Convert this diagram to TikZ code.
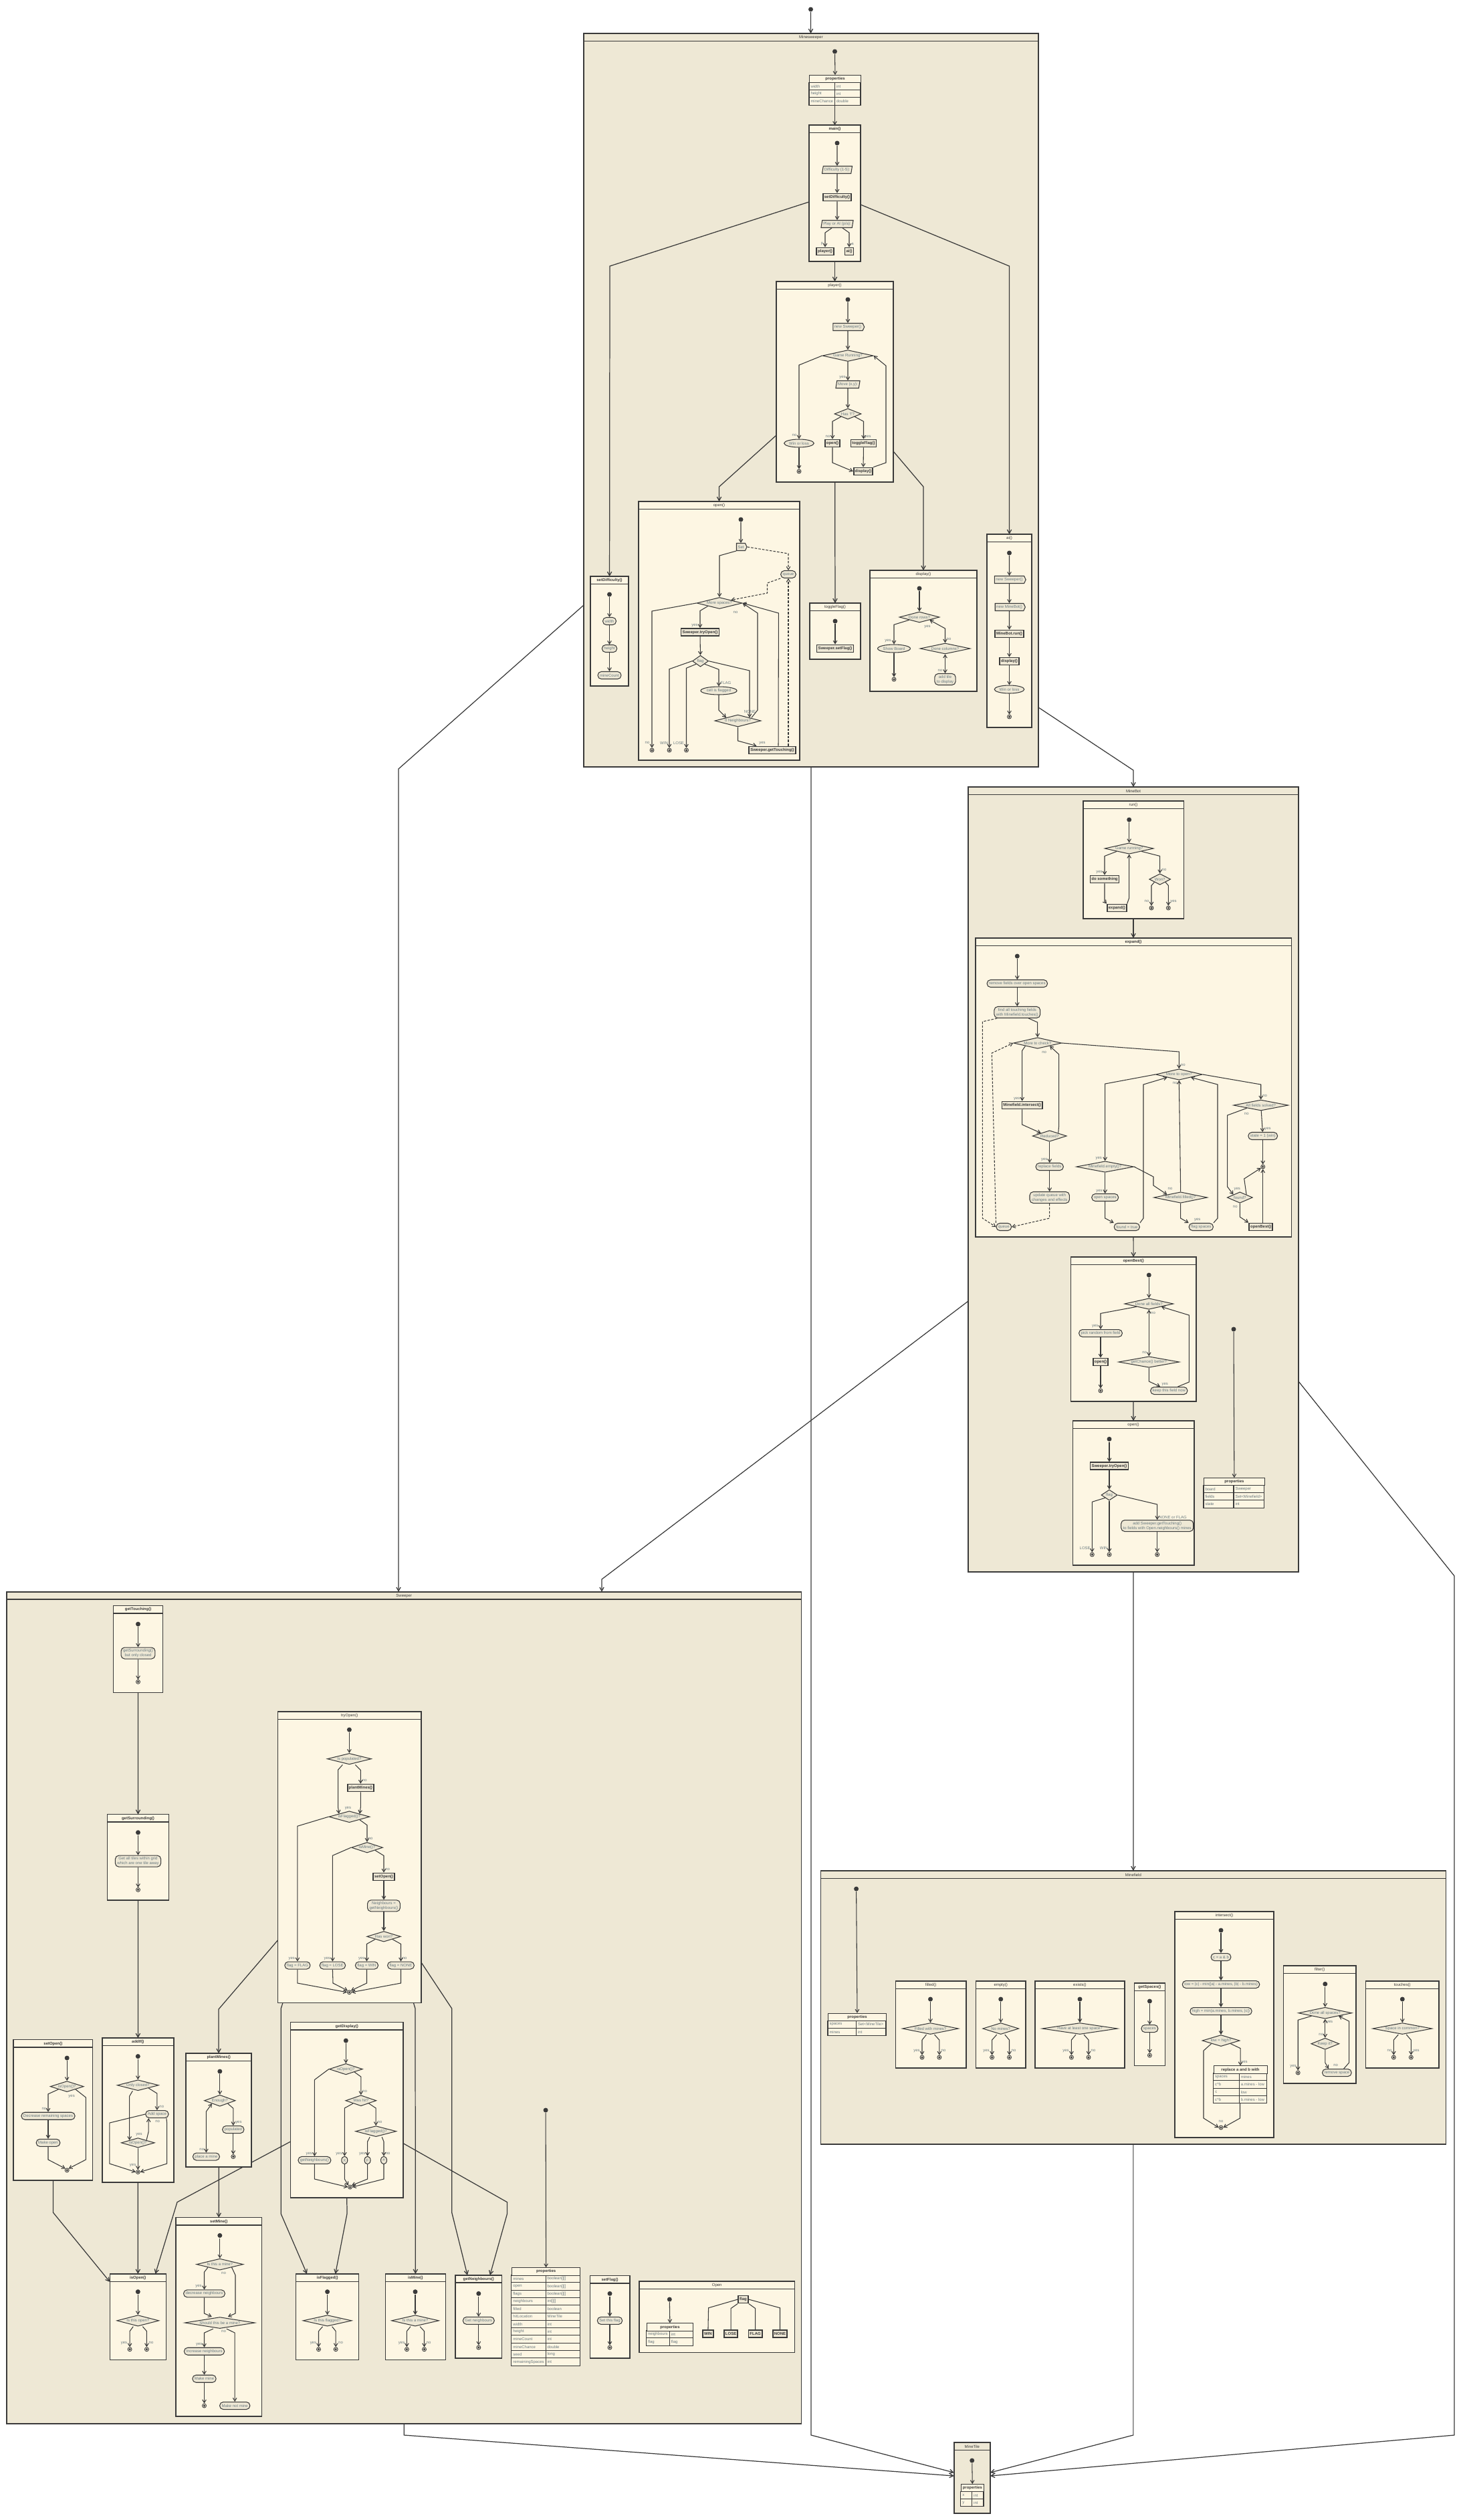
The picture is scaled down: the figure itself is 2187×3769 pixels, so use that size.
\documentclass[tikz,border=0pt]{standalone}
\usepackage{fontspec}
\setmainfont{Liberation Sans}
\usepackage{tikz}
\usetikzlibrary{arrows.meta,shapes.geometric,shapes.symbols}

\definecolor{beige}{HTML}{EEE8D5}
\definecolor{cream}{HTML}{FDF6E3}
\definecolor{nodefill}{HTML}{EEE8D5}
\definecolor{ink}{HTML}{3A3A3A}
\definecolor{txt}{HTML}{6B7B80}

\newdimen\px
\px=0.01cm

\pgfdeclarelayer{back}
\pgfdeclarelayer{mid}
\pgfsetlayers{back,mid,main}

\tikzset{
  base/.style={font=\fontsize{1.7}{2}\selectfont, text=txt, inner sep=0pt},
  start/.style={circle, fill=ink, inner sep=0pt, minimum size=7*\px},
  stop/.style={circle, draw=ink, fill=cream, line width=0.25pt, inner sep=0pt,
    minimum size=6*\px, path picture={\fill[ink] (path picture bounding box.center) circle (0.5pt);}},
  act/.style={base, draw=ink, fill=nodefill, line width=0.3pt, rounded corners=1.5pt,
    minimum height=11*\px, inner xsep=3*\px, inner ysep=2.2*\px, align=center},
  call/.style={base, draw=ink, fill=nodefill, line width=0.5pt, text=ink,
    font=\fontsize{1.7}{2}\selectfont\bfseries, minimum height=11*\px, inner xsep=2*\px},
  inp/.style={base, trapezium, trapezium left angle=72, trapezium right angle=108,
    trapezium stretches=true, draw=ink, fill=nodefill, line width=0.3pt,
    minimum height=11*\px, inner xsep=1.5*\px},
  sig/.style={base, signal, signal to=east, signal pointer angle=130, draw=ink,
    fill=nodefill, line width=0.3pt, minimum height=11*\px, inner xsep=2*\px},
  dec/.style 2 args={base, diamond, draw=ink, fill=nodefill, line width=0.3pt,
    /utils/exec={\pgfmathsetmacro\decaspect{#1/#2}}, aspect=\decaspect,
    minimum width=#1*\px, minimum height=#2*\px},
  oval/.style={base, ellipse, draw=ink, fill=nodefill, line width=0.3pt,
    minimum height=12*\px, inner xsep=1*\px},
  lbl/.style={base},
  flow/.style={draw=ink, line width=0.3pt, -{Straight Barb[length=1.3pt,width=1.6pt]}},
  both/.style={draw=ink, line width=0.3pt,
    {Straight Barb[length=1.3pt,width=1.6pt]}-{Straight Barb[length=1.3pt,width=1.6pt]}},
  dflow/.style={flow, dash pattern=on 1pt off 0.6pt},
  link/.style={draw=ink, line width=0.35pt, -{Straight Barb[length=1.6pt,width=1.8pt]}},
  tree/.style={draw=ink, line width=0.3pt},
  sl/.style={to path={-- ([yshift=-#1*\px]\tikztostart -| \tikztotarget) -- (\tikztotarget) \tikztonodes}},
  sl/.default=7,
  frame/.style={draw=ink, line width=0.45pt, inner sep=0pt, outer sep=0pt},
  ftitle/.style={base, text=ink},
  tabhead/.style={base, draw=ink, fill=cream, line width=0.3pt, text=ink,
    font=\fontsize{1.7}{2}\selectfont\bfseries},
  tabtxt/.style={base},
}

% frame with a title bar: fill, name, x1, y1, x2, y2, title
\newcommand{\umlframe}[7]{%
  \node[frame, fill=#1, minimum width={(#5-#3)*\px}, minimum height={(#6-#4)*\px},
    anchor=north west] (#2) at (#3,#4) {};
  \draw[ink, line width=0.45pt] (#3,#4+11.5) -- (#5,#4+11.5);
  \node[ftitle] (#2-t) at ({(#3+#5)/2},#4+6) {#7};
}

% table: name, title, x left, x split, x right, y top, rows
\newcommand{\proptab}[7]{%
  \foreach \k/\v [count=\i] in {#7} {
    \draw[tree, fill=cream] (#3,{#6+\i*11.3}) rectangle (#5,{#6+(\i+1)*11.3});
    \draw[tree] (#4,{#6+\i*11.3}) -- (#4,{#6+(\i+1)*11.3});
    \node[tabtxt, anchor=west] (#1-k\i) at (#3+1.8,{#6+(\i+0.5)*11.3}) {\k};
    \node[tabtxt, anchor=west] (#1-v\i) at (#4+1.8,{#6+(\i+0.5)*11.3}) {\v};
    \coordinate (#1-bot) at ({(#3+#5)/2},{#6+(\i+1)*11.3});
  }
  \node[tabhead, minimum width={(#5-#3)*\px}, minimum height={11.3*\px},
    anchor=north west] (#1) at (#3,#6) {#2};
}

\begin{document}
\begin{tikzpicture}[x=0.01cm, y=-0.01cm]
\useasboundingbox (0,0) rectangle (2187,3769);
\begin{pgfonlayer}{back}
  \fill[white] (0,0) rectangle (2187,3769);
  \umlframe{beige}{ms}{873}{50}{1553}{1147}{Minesweeper}
  \umlframe{beige}{mb}{1448}{1177}{1942}{2351}{MineBot}
  \umlframe{beige}{mf}{1227.3}{2798}{2162.4}{3207}{Minefield}
  \umlframe{beige}{sw}{10}{2380.7}{1198.5}{3625}{Sweeper}
  \umlframe{beige}{mt}{1426.7}{3653}{1481}{3759}{MineTile}
\end{pgfonlayer}

\node[start] (go) at (1212.5,14) {};

% ================= Minesweeper
\node[start] (ms-s) at (1248.5,77) {};
\proptab{ms-pr}{properties}{1210}{1248.5}{1287}{112}{width/int, height/int, mineChance/double}
\draw[flow] (ms-s) -- (ms-pr);

% main()
\umlframe{cream}{ms-main}{1210}{187}{1287}{391}{\bfseries main()}
\draw[flow] (ms-pr-bot) -- (ms-main);
\node[start] (mm-s) at (1252,214) {};
\node[inp] (mm-d) at (1252,254) {Difficulty (1-5):};
\node[call] (mm-sd) at (1252,295) {setDifficulty()};
\node[inp] (mm-pa) at (1252,335) {Play or AI (p/a):};
\node[call] (mm-pl) at (1234,376) {player()};
\node[call] (mm-ai) at (1270,376) {ai()};
\node[lbl] (mm-lp) at (1229.5,365) {p};
\node[lbl] (mm-la) at (1275,365) {a};
\foreach \a/\b in {mm-s/mm-d, mm-d/mm-sd, mm-sd/mm-pa}
  \draw[flow] (\a) -- (\b);
\draw[flow] ([xshift=-0.08cm]mm-pa.south) to[sl] (mm-pl);
\draw[flow] ([xshift=0.08cm]mm-pa.south) to[sl] (mm-ai);

% player()
\umlframe{cream}{ms-pf}{1161}{421}{1336}{721}{player()}
\node[start] (pf-s) at (1268,448) {};
\node[sig] (pf-new) at (1268,489) {new Sweeper()};
\node[dec={76}{17}] (pf-run) at (1268,532) {Game Running?};
\node[lbl] (pf-ly) at (1260,565) {yes};
\node[inp] (pf-mv) at (1268,575) {Move (x,y):};
\node[dec={40}{16}] (pf-f) at (1268,619) {Has 'f'?};
\node[call] (pf-op) at (1245,663) {open()};
\node[call] (pf-tf) at (1291.5,663) {toggleFlag()};
\node[lbl] (pf-ln) at (1238,653) {no};
\node[lbl] (pf-lt) at (1298,653) {yes};
\node[call] (pf-dp) at (1291,705) {display()};
\node[lbl] (pf-lw) at (1188,651) {no};
\node[oval] (pf-wl) at (1195,663) {Win or loss};
\node[stop] (pf-e) at (1195,705) {};
\foreach \a/\b in {pf-s/pf-new, pf-new/pf-run, pf-run/pf-mv, pf-mv/pf-f, pf-wl/pf-e, pf-tf/pf-dp}
  \draw[flow] (\a) -- (\b);
\draw[flow] (pf-run.west) to[sl=14] (pf-wl);
\draw[flow] (pf-f.south west) to[sl] (pf-op);
\draw[flow] (pf-f.south east) to[sl] (pf-tf);
\draw[flow] (pf-op.south) -- (1245,692) -- (pf-dp.west);
\draw[flow] (pf-dp.north east) -- (1325,692) -- (1325,547) -- (pf-run.east);

% setDifficulty()
\umlframe{cream}{ms-sd}{883}{862}{940}{1026}{\bfseries setDifficulty()}
\node[start] (sd-s) at (911.5,889) {};
\node[act] (sd-w) at (911.5,929) {width};
\node[act] (sd-h) at (911.5,970) {height};
\node[act] (sd-m) at (911.5,1010) {mineCount};
\foreach \a/\b in {sd-s/sd-w, sd-w/sd-h, sd-h/sd-m}
  \draw[flow] (\a) -- (\b);

% open()
\umlframe{cream}{ms-of}{955}{750}{1196}{1137}{open()}
\node[start] (of-s) at (1108,777) {};
\node[sig] (of-set) at (1108,818) {Set};
\node[act] (of-q) at (1179,859) {queue};
\node[dec={68}{17}] (of-m) at (1076,902) {More spaces?};
\node[lbl] (of-l1) at (1100,916) {no};
\node[lbl] (of-l2) at (1039,935) {yes};
\node[call] (of-try) at (1047,945.5) {Sweeper.tryOpen()};
\node[dec={24}{17}] (of-f) at (1047.5,988.7) {flag};
\node[lbl] (of-l3) at (1085.5,1021) {FLAG};
\node[oval] (of-cf) at (1075,1033) {cell is flagged};
\node[lbl] (of-l4) at (1121.5,1064) {NONE};
\node[dec={69}{18}] (of-n) at (1103.5,1078) {0 Neighbours?};
\node[lbl] (of-l5) at (1140,1111) {yes};
\node[call] (of-gt) at (1155,1122) {Sweeper.getTouching()};
\node[stop] (of-e1) at (975,1122) {};
\node[stop] (of-e2) at (1001,1122) {};
\node[stop] (of-e3) at (1026.5,1122) {};
\node[lbl] (of-l6) at (968,1111) {no};
\node[lbl] (of-l7) at (993,1111) {WIN};
\node[lbl] (of-l8) at (1015,1111) {LOSE};
\draw[flow] (of-s) -- (of-set);
\draw[flow] ([xshift=-0.07cm]of-set.south) to[sl] (of-m);
\draw[dflow] (of-set.east) to[sl=10] (of-q);
\draw[dflow] (of-q.south west) -- (1147.5,872) -- (1147.5,887) -- (of-m.north east);
\draw[flow] (of-m.west) to[sl=12] (of-e1);
\draw[flow] (of-m.south west) to[sl] (of-try);
\draw[flow] (of-try) -- (of-f);
\draw[flow] (of-f.west) to[sl=12] (of-e2);
\draw[flow] (of-f.south west) to[sl=6] (of-e3);
\draw[flow] (of-f.south east) to[sl=8] (of-cf);
\draw[flow] (of-f.east) -- (of-n.north east |- 0,1003) -- (of-n.north east);
\draw[flow] (of-cf.south) -- (1075,1062) -- (of-n.north west);
\draw[flow] (of-n.south) -- (1103.5,1108) -- ([xshift=0.12cm]of-gt.north west);
\draw[flow] ([xshift=0.03cm]of-n.north east) -- (1133,1062) -- (1133,917) -- (of-m.east);
\draw[flow] ([xshift=0.09cm]of-gt.north) -- (1164.4,917) -- (of-m.east);
\draw[dflow] (of-q.south |- of-gt.north) -- (of-q.south);

% toggleFlag()
\umlframe{cream}{ms-tf}{1211}{902}{1287}{986}{toggleFlag()}
\node[start] (tf-s) at (1249,929) {};
\node[call] (tf-c) at (1249,970) {Sweeper.setFlag()};
\draw[flow] (tf-s) -- (tf-c);

% display()
\umlframe{cream}{ms-df}{1301}{853}{1461}{1034}{display()}
\node[start] (df-s) at (1375,880) {};
\node[dec={60}{16}] (df-r) at (1375,923) {Done rows?};
\node[lbl] (df-l1) at (1387,937) {yes};
\node[lbl] (df-l2) at (1328,958) {yes};
\node[oval] (df-sb) at (1337,970) {Show Board};
\node[stop] (df-e) at (1337,1016) {};
\node[lbl] (df-l3) at (1419,956) {no};
\node[dec={75}{16}] (df-c) at (1413.5,970) {Done columns?};
\node[lbl] (df-l4) at (1406,1003) {no};
\node[act] (df-a) at (1413.5,1016) {add tile\\to display};
\draw[flow] (df-s) -- (df-r);
\draw[flow] (df-r.south west) to[sl] (df-sb);
\draw[flow] (df-sb) -- (df-e);
\draw[both] (df-c.north) -- (1413.5,940) -- (df-r.south east);
\draw[both] (df-c) -- (df-a);

% ai()
\umlframe{cream}{ms-ai}{1476}{799}{1543}{1088}{ai()}
\node[start] (ai-s) at (1509.5,827) {};
\node[sig] (ai-1) at (1509.5,867) {new Sweeper()};
\node[sig] (ai-2) at (1509.5,908) {new MineBot()};
\node[call] (ai-3) at (1509.5,948) {MineBot.run()};
\node[call] (ai-4) at (1509.5,989) {display()};
\node[oval] (ai-5) at (1509.5,1031) {Win or loss};
\node[stop] (ai-e) at (1509.5,1072) {};
\foreach \a/\b in {ai-s/ai-1, ai-1/ai-2, ai-2/ai-3, ai-3/ai-4, ai-4/ai-5, ai-5/ai-e}
  \draw[flow] (\a) -- (\b);

% ================= MineBot
% run()
\umlframe{cream}{mb-run}{1619.7}{1198}{1770.3}{1374}{run()}
\node[start] (rn-s) at (1688.7,1226) {};
\node[dec={73}{16.5}] (rn-g) at (1688.7,1269) {Game running?};
\node[lbl] (rn-l1) at (1644,1304) {yes};
\node[call] (rn-d) at (1652,1315) {do something};
\node[call] (rn-x) at (1670.3,1358) {expand()};
\node[lbl] (rn-l2) at (1741,1301) {no};
\node[dec={32}{16.5}] (rn-w) at (1734.7,1315) {Won?};
\node[lbl] (rn-l3) at (1715,1348) {no};
\node[lbl] (rn-l4) at (1755,1348) {yes};
\node[stop] (rn-e1) at (1722,1358) {};
\node[stop] (rn-e2) at (1747.3,1358) {};
\draw[flow] (rn-s) -- (rn-g);
\draw[flow] (rn-g.south west) to[sl] (rn-d);
\draw[flow] (rn-d.south) -- (1652,1348) -- (rn-x.north west);
\draw[flow] (rn-x.north east) -- (1688.7,1343) -- (rn-g.south);
\draw[flow] (rn-g.south east) to[sl] (rn-w);
\draw[flow] (rn-w.south west) to[sl=5] (rn-e1);
\draw[flow] (rn-w.south east) to[sl=5] (rn-e2);

% expand()
\umlframe{cream}{mb-exp}{1458.7}{1403}{1931.3}{1850}{\bfseries expand()}
\node[start] (ex-s) at (1521.3,1430) {};
\node[act] (ex-r) at (1521.3,1471) {remove fields over open spaces};
\node[act] (ex-f) at (1521.3,1514) {find all touching fields\\with Minefield.touches()};
\node[dec={72}{16.5}] (ex-c) at (1551.7,1560) {More to check?};
\node[lbl] (ex-l1) at (1561.7,1574) {no};
\node[lbl] (ex-l2) at (1520.7,1643) {yes};
\node[call] (ex-i) at (1528.7,1653) {Minefield.intersect()};
\node[dec={51}{16.5}] (ex-d) at (1569.7,1699) {Reduced?};
\node[lbl] (ex-l3) at (1561.7,1734) {yes};
\node[act] (ex-rp) at (1569.7,1745) {replace fields};
\node[act] (ex-u) at (1569.7,1791) {update queue with\\changes and effects};
\node[act] (ex-q) at (1501.3,1835) {queue};
\node[dec={70}{16.5}] (ex-o) at (1763.3,1607) {More to open?};
\node[lbl] (ex-l4) at (1769.3,1593) {no};
\node[lbl] (ex-l5) at (1757.3,1620) {no};
\node[lbl] (ex-l6) at (1643.3,1732) {yes};
\node[dec={86}{16.5}] (ex-em) at (1652.7,1745) {Minefield.empty()?};
\node[lbl] (ex-l7) at (1644,1781) {yes};
\node[act] (ex-os) at (1652.7,1791) {open spaces};
\node[act] (ex-ft) at (1685.3,1835) {found = true};
\node[lbl] (ex-l8) at (1750,1778) {no};
\node[dec={80}{16.5}] (ex-fi) at (1765.7,1791) {Minefield.filled()?};
\node[lbl] (ex-l9) at (1790.7,1824) {yes};
\node[act] (ex-fs) at (1796.3,1835) {flag spaces};
\node[lbl] (ex-l10) at (1891.7,1639) {no};
\node[dec={82}{16}] (ex-a) at (1885.7,1653) {All fields solved?};
\node[lbl] (ex-l11) at (1864.3,1666) {no};
\node[lbl] (ex-l12) at (1896,1688) {yes};
\node[act] (ex-w) at (1888.7,1699) {state = 1 (win)};
\node[stop] (ex-e) at (1888.7,1745) {};
\node[lbl] (ex-l13) at (1850.3,1778) {yes};
\node[dec={38}{16.5}] (ex-fd) at (1854.3,1791) {found?};
\node[lbl] (ex-l14) at (1847.3,1805) {no};
\node[call] (ex-b) at (1885.7,1835) {openBest()};
\foreach \a/\b in {ex-s/ex-r, ex-r/ex-f, ex-d/ex-rp, ex-rp/ex-u, ex-em/ex-os, ex-a/ex-w, ex-w/ex-e}
  \draw[flow] (\a) -- (\b);
\draw[flow] ([xshift=0.17cm]ex-f.south) to[sl=6] (ex-c);
\draw[dflow] ([xshift=-0.3cm]ex-f.south) -- (1469.3,1528) -- (1469.3,1822) -- (ex-q.west);
\draw[dflow] (ex-q.north west) -- (1483.3,1575) -- (ex-c.west);
\draw[flow] (ex-c.south west) to[sl] (ex-i);
\draw[flow] (ex-i.south) -- (1528.7,1682) -- (ex-d.north west);
\draw[flow] (ex-d.north east) -- (1583.7,1683) -- (1583.7,1577) -- (ex-c.south east);
\draw[dflow] (ex-u.south) -- (1569.7,1822) -- (ex-q.east);
\draw[flow] (ex-c.east) to[sl=13] (ex-o);
\draw[flow] (ex-o.west) to[sl=14] (ex-em);
\draw[flow] (ex-os.south) -- (1652.7,1822) -- (ex-ft.north west);
\draw[flow] (ex-em.east) -- (1725,1760) -- (1725,1773) -- (ex-fi.north west);
\draw[flow] (ex-ft.north east) -- (1710,1822) -- (1710,1622) -- (ex-o.south west);
\draw[flow] (ex-fi.north) -- (ex-o.south);
\draw[flow] (ex-fi.south) -- (1765.7,1822) -- (ex-fs.north west);
\draw[flow] (ex-fs.north east) -- (1821,1822) -- (1821,1622) -- (ex-o.south east);
\draw[flow] (ex-o.east) to[sl=15] (ex-a);
\draw[flow] (ex-a.south west) -- (1835.7,1668) -- (1835.7,1775) -- (ex-fd.north west);
\draw[flow] (ex-fd.north east) -- (1860.7,1763) -- (ex-e);
\draw[flow] (ex-fd.south) -- (1854.3,1820) -- (ex-b.north west);
\draw[flow] (ex-e |- ex-b.north) -- (ex-e);

% openBest()
\umlframe{cream}{mb-ob}{1601.3}{1880}{1789}{2096}{\bfseries openBest()}
\node[start] (ob-s) at (1718.3,1907) {};
\node[dec={73}{16.5}] (ob-d) at (1718.3,1950) {Done all fields?};
\node[lbl] (ob-l1) at (1637.7,1983) {yes};
\node[act] (ob-p) at (1646,1994) {pick random from field};
\node[call] (ob-o) at (1646,2037) {open()};
\node[stop] (ob-e) at (1646,2080) {};
\node[lbl] (ob-l2) at (1724.5,1964) {no};
\node[lbl] (ob-l3) at (1711.7,2023) {no};
\node[dec={91}{16.5}] (ob-g) at (1718.3,2037) {getChance() better?};
\node[lbl] (ob-l4) at (1742.3,2070) {yes};
\node[act] (ob-k) at (1748.3,2080) {keep this field now};
\foreach \a/\b in {ob-s/ob-d, ob-p/ob-o, ob-o/ob-e}
  \draw[flow] (\a) -- (\b);
\draw[flow] (ob-d.south west) to[sl=10] (ob-p);
\draw[both] (ob-d) -- (ob-g);
\draw[flow] (ob-g.south) -- (1718.3,2066) -- ([xshift=0.15cm]ob-k.north west);
\draw[flow] ([xshift=-0.15cm]ob-k.north east) -- (1778.3,2067) -- (1778.3,1967) -- (ob-d.south east);

% open()
\umlframe{cream}{mb-op}{1604.3}{2125}{1785.7}{2341}{open()}
\node[start] (bo-s) at (1659,2152.3) {};
\node[call] (bo-t) at (1659,2192.7) {Sweeper.tryOpen()};
\node[dec={24}{16}] (bo-f) at (1659,2236) {flag};
\node[lbl] (bo-l1) at (1622.7,2315) {LOSE};
\node[lbl] (bo-l2) at (1650.7,2315) {WIN};
\node[stop] (bo-e1) at (1633.3,2325) {};
\node[stop] (bo-e2) at (1659,2325) {};
\node[stop] (bo-e3) at (1730.7,2325) {};
\node[lbl] (bo-l3) at (1754,2269) {NONE or FLAG};
\node[act] (bo-a) at (1730.7,2282) {add Sweeper.getTouching()\\to fields with Open.neighbours() mines};
\foreach \a/\b in {bo-s/bo-t, bo-t/bo-f, bo-f/bo-e2, bo-a/bo-e3}
  \draw[flow] (\a) -- (\b);
\draw[flow] (bo-f.south west) to[sl=6] (bo-e1);
\draw[flow] (bo-f.east) to[sl=14] (bo-a);

% properties
\node[start] (mb-s) at (1845,1988) {};
\proptab{mb-pr}{properties}{1800}{1845}{1890.7}{2210}{board/Sweeper, fields/Set<Minefield>, state/int}
\draw[flow] (mb-s) -- (mb-pr);

% ================= Minefield
\node[start] (mf-s) at (1280.6,2825) {};
\proptab{mf-pr}{properties}{1238}{1280.6}{1325}{3010.7}{spaces/Set<MineTile>, mines/int}
\draw[flow] (mf-s) -- (mf-pr);

\umlframe{cream}{mf-fl}{1339.4}{2963}{1444.8}{3092.7}{filled()}
\node[start] (fl-s) at (1391.5,2990) {};
\node[dec={84}{17}] (fl-d) at (1391.5,3034) {Filled with mines?};
\node[lbl] (fl-l1) at (1371,3067) {yes};
\node[lbl] (fl-l2) at (1411,3067) {no};
\node[stop] (fl-e1) at (1379,3077) {};
\node[stop] (fl-e2) at (1404.8,3077) {};

\umlframe{cream}{mf-em}{1459.4}{2963}{1534}{3092.7}{empty()}
\node[start] (em-s) at (1496.7,2990) {};
\node[dec={54}{17}] (em-d) at (1496.7,3034) {No mines?};
\node[lbl] (em-l1) at (1475,3067) {yes};
\node[lbl] (em-l2) at (1516,3067) {no};
\node[stop] (em-e1) at (1483.6,3077) {};
\node[stop] (em-e2) at (1509.5,3077) {};

\umlframe{cream}{mf-ex}{1547.9}{2963}{1681.8}{3092.7}{exists()}
\node[start] (xs-s) at (1615,2990) {};
\node[dec={113}{17}] (xs-d) at (1615,3034) {Have at least one space?};
\node[lbl] (xs-l1) at (1594,3067) {yes};
\node[lbl] (xs-l2) at (1635,3067) {no};
\node[stop] (xs-e1) at (1602.4,3077) {};
\node[stop] (xs-e2) at (1628,3077) {};

\umlframe{cream}{mf-to}{2042.5}{2963}{2152}{3092.7}{touches()}
\node[start] (to-s) at (2097.3,2990) {};
\node[dec={89}{17}] (to-d) at (2097.3,3034) {Space in common?};
\node[lbl] (to-l1) at (2078,3067) {no};
\node[lbl] (to-l2) at (2118,3067) {yes};
\node[stop] (to-e1) at (2084.3,3077) {};
\node[stop] (to-e2) at (2110.3,3077) {};

\foreach \p in {fl,em,xs,to} {
  \draw[flow] (\p-s) -- (\p-d);
  \draw[flow] ([xshift=-0.06cm]\p-d.south) to[sl=8] (\p-e1);
  \draw[flow] ([xshift=0.06cm]\p-d.south) to[sl=8] (\p-e2);
}

\umlframe{cream}{mf-gs}{1696.4}{2966}{1742.4}{3089.3}{\bfseries getSpaces()}
\node[start] (gs-s) at (1719.4,2993) {};
\node[act] (gs-a) at (1719.4,3034) {spaces};
\node[stop] (gs-e) at (1719.4,3074) {};
\draw[flow] (gs-s) -- (gs-a);
\draw[flow] (gs-a) -- (gs-e);

% intersect()
\umlframe{cream}{mf-in}{1757}{2859}{1905}{3196.7}{intersect()}
\node[start] (in-s) at (1826,2887) {};
\node[act] (in-a) at (1826,2927) {c = a \& b};
\node[act] (in-b) at (1826,2968) {low = |c| - min(|a| - a.mines, |b| - b.mines)};
\node[act] (in-c) at (1826,3008) {high = min(a.mines, b.mines, |c|)};
\node[dec={56}{17}] (in-d) at (1826,3052) {low = high?};
\node[lbl] (in-l1) at (1861,3084) {yes};
\proptab{in-t}{replace a and b with}{1814.5}{1853.3}{1894.5}{3089.3}{spaces/mines, c\textasciicircum b/a.mines - low, c/low, c\textasciicircum b/b.mines - low}
\node[lbl] (in-l2) at (1826,3173) {no};
\node[stop] (in-e) at (1826,3182) {};
\foreach \a/\b in {in-s/in-a, in-a/in-b, in-b/in-c, in-c/in-d}
  \draw[flow] (\a) -- (\b);
\draw[flow] (in-d.south west) -- (1800,3067) -- (1800,3168) -- (in-e.west);
\draw[flow] (in-d.south east) to[sl=7] (in-t);
\draw[flow] (in-t-bot) -- (1854.5,3168) -- (in-e.east);

% filter()
\umlframe{cream}{mf-ft}{1919.4}{2940}{2027.9}{3116}{filter()}
\node[start] (ft-s) at (1981.8,2967.3) {};
\node[dec={80}{17}] (ft-d) at (1981.8,3010.7) {Done all spaces?};
\node[lbl] (ft-l1) at (1988.5,3024.3) {yes};
\node[lbl] (ft-l2) at (1975.8,3043.3) {no};
\node[dec={42}{17}] (ft-k) at (1981.8,3056.7) {Keep it?};
\node[lbl] (ft-l3) at (1997.6,3089.3) {no};
\node[act] (ft-r) at (1999.4,3100) {remove space};
\node[lbl] (ft-l4) at (1934,3090) {yes};
\node[stop] (ft-e) at (1941.2,3100) {};
\draw[flow] (ft-s) -- (ft-d);
\draw[flow] (ft-d.south west) to[sl=6] (ft-e);
\draw[both] (ft-d) -- (ft-k);
\draw[flow] (ft-k.south) -- (1981.8,3085) -- ([xshift=0.1cm]ft-r.north west);
\draw[flow] ([xshift=-0.12cm]ft-r.north east) -- (2017.6,3085) -- (2017.6,3023) -- (ft-d.south east);

% ================= Sweeper
\umlframe{cream}{sw-gt}{169.6}{2401.4}{243.5}{2531.4}{\bfseries getTouching()}
\node[start] (gt-s) at (206.5,2429) {};
\node[act] (gt-a) at (206.5,2472.5) {getSurrounding()\\but only closed};
\node[stop] (gt-e) at (206.5,2515.4) {};
\draw[flow] (gt-s) -- (gt-a);
\draw[flow] (gt-a) -- (gt-e);

\umlframe{cream}{sw-gs}{160.6}{2713.6}{252.4}{2842}{\bfseries getSurrounding()}
\node[start] (gsu-s) at (206.5,2740.7) {};
\node[act] (gsu-a) at (206.5,2783.6) {Get all tiles within grid\\which are one tile away};
\node[stop] (gsu-e) at (206.5,2826.4) {};
\draw[flow] (gsu-s) -- (gsu-a);
\draw[flow] (gsu-a) -- (gsu-e);

% tryOpen()
\umlframe{cream}{sw-to}{415.3}{2560}{630}{2995.4}{tryOpen()}
\node[start] (tr-s) at (522.4,2587) {};
\node[dec={66}{16.5}] (tr-p) at (522.4,2630.6) {Is populated?};
\node[lbl] (tr-l1) at (545.4,2662.8) {no};
\node[call] (tr-pm) at (539.3,2674) {plantMines()};
\node[lbl] (tr-l2) at (520.4,2704.3) {yes};
\node[dec={61}{17}] (tr-fg) at (522.4,2717.2) {isFlagged()?};
\node[lbl] (tr-l3) at (554,2749.8) {no};
\node[dec={47}{15.6}] (tr-mi) at (549,2763.2) {isMine()?};
\node[lbl] (tr-l4) at (579.6,2795.8) {no};
\node[call] (tr-so) at (574,2807) {setOpen()};
\node[act] (tr-nb) at (574,2850.3) {Neighbours =\\getNeighbours()};
\node[dec={50.5}{15.6}] (tr-hw) at (574,2896.3) {Has won?};
\node[lbl] (tr-l5) at (436.2,2929.3) {yes};
\node[lbl] (tr-l6) at (489.3,2929.3) {yes};
\node[lbl] (tr-l7) at (540.8,2929.3) {yes};
\node[lbl] (tr-l8) at (605.1,2929.3) {no};
\node[act] (tr-a) at (444.9,2939.5) {flag = FLAG};
\node[act] (tr-b) at (497.4,2939.5) {flag = LOSE};
\node[act] (tr-c) at (548.5,2939.5) {flag = WIN};
\node[act] (tr-d) at (599.5,2939.5) {flag = NONE};
\node[stop] (tr-e) at (522.4,2979.7) {};
\foreach \a/\b in {tr-s/tr-p, tr-so/tr-nb, tr-nb/tr-hw}
  \draw[flow] (\a) -- (\b);
\draw[flow] ([xshift=-0.1cm]tr-p.south) -- (505.6,2647) -- (505.6,2703) -- (tr-fg.north west);
\draw[flow] ([xshift=0.09cm]tr-p.south) to[sl=8] (tr-pm);
\draw[flow] (tr-pm.south) -- (539.3,2703) -- (tr-fg.north east);
\draw[flow] (tr-fg.west) to[sl=14] (tr-a);
\draw[flow] (tr-fg.south east) to[sl=8] (tr-mi);
\draw[flow] (tr-mi.west) to[sl=12] (tr-b);
\draw[flow] (tr-mi.south east) to[sl=8] (tr-so);
\draw[flow] (tr-hw.south west) to[sl=7] (tr-c);
\draw[flow] (tr-hw.south east) to[sl=7] (tr-d);
\draw[flow] (tr-a.south) -- (444.9,2966) -- (tr-e.west);
\draw[flow] (tr-b.south) -- (498,2966) -- (tr-e.north west);
\draw[flow] (tr-c.south) -- (548.5,2966) -- (tr-e.north east);
\draw[flow] (tr-d.south) -- (599.5,2966) -- (tr-e.east);

% setOpen()
\umlframe{cream}{sw-so}{20.2}{3050.6}{138.6}{3261}{\bfseries setOpen()}
\node[start] (so-s) at (100.2,3078) {};
\node[dec={50}{16}] (so-d) at (100.2,3120.6) {isOpen()?};
\node[lbl] (so-l1) at (107.1,3135.6) {yes};
\node[lbl] (so-l2) at (65.9,3154) {no};
\node[act] (so-a) at (72,3164.7) {Decrease remaining spaces};
\node[act] (so-b) at (72,3204.8) {Make open};
\node[stop] (so-e) at (100.2,3245.8) {};
\draw[flow] (so-s) -- (so-d);
\draw[flow] (so-d.south west) to[sl=7] (so-a);
\draw[flow] (so-d.south east) -- (128.4,3137) -- (128.4,3230) -- (so-e.north east);
\draw[flow] (so-a) -- (so-b);
\draw[flow] (so-b.south) -- (72,3230) -- (so-e.north west);

% addIf()
\umlframe{cream}{sw-ai}{152.9}{3048}{259.8}{3264}{\bfseries addIf()}
\node[start] (ad-s) at (206.3,3075.5) {};
\node[dec={62}{16}] (ad-c) at (206.3,3118.7) {Only closed?};
\node[lbl] (ad-l1) at (241.8,3151.3) {no};
\node[act] (ad-a) at (234.9,3162) {Add space};
\node[lbl] (ad-l2) at (235.7,3173) {no};
\node[lbl] (ad-l3) at (208,3192.2) {yes};
\node[dec={50}{14.5}] (ad-o) at (206.3,3204.8) {isOpen()?};
\node[lbl] (ad-l4) at (198.6,3238.1) {yes};
\node[stop] (ad-e) at (206.3,3248.5) {};
\draw[flow] (ad-s) -- (ad-c);
\draw[flow] ([xshift=-0.08cm]ad-c.south) -- (193.7,3135) -- (193.7,3194) -- (ad-o.north west);
\draw[flow] (ad-c.south east) to[sl=8] (ad-a);
\draw[flow] (ad-o.north east) -- (222.2,3188) -- ([xshift=-0.127cm]ad-a.south);
\draw[flow] (ad-a.west) -- (163.9,3175) -- (163.9,3236) -- (ad-e.west);
\draw[flow] ([xshift=0.14cm]ad-a.south) -- (249.6,3175) -- (249.6,3236) -- (ad-e.east);
\draw[flow] (ad-o) -- (ad-e);

% plantMines()
\umlframe{cream}{sw-pm}{278.2}{3070.9}{376.1}{3241.2}{\bfseries plantMines()}
\node[start] (pm-s) at (328.8,3098) {};
\node[dec={46.5}{17}] (pm-d) at (328.8,3141.7) {Enough?};
\node[lbl] (pm-l1) at (356.9,3174.2) {yes};
\node[act] (pm-p) at (348.8,3185) {populated};
\node[stop] (pm-e) at (348.8,3225.5) {};
\node[lbl] (pm-l2) at (301.8,3215.2) {no};
\node[act] (pm-m) at (308.4,3225.5) {place a mine};
\draw[flow] (pm-s) -- (pm-d);
\draw[flow] (pm-d.south east) to[sl=7] (pm-p);
\draw[flow] (pm-p) -- (pm-e);
\draw[both] (pm-m.north) -- (308.4,3158) -- (pm-d.south west);

% getDisplay()
\umlframe{cream}{sw-gd}{434.5}{3024.6}{603}{3286.7}{\bfseries getDisplay()}
\node[start] (gd-s) at (517.3,3052) {};
\node[dec={50}{16.5}] (gd-o) at (517.3,3094.6) {isOpen()?};
\node[lbl] (gd-l1) at (545.5,3128) {no};
\node[dec={46}{16}] (gd-h) at (539.8,3141.7) {Was hit?};
\node[lbl] (gd-l2) at (568,3174.2) {no};
\node[dec={61}{16}] (gd-f) at (562.2,3187.6) {isFlagged()?};
\node[lbl] (gd-l3) at (462.2,3221) {yes};
\node[lbl] (gd-l4) at (507.1,3221) {yes};
\node[lbl] (gd-l5) at (541.8,3221) {yes};
\node[lbl] (gd-l6) at (580.2,3221) {no};
\node[act] (gd-n) at (470.4,3230.9) {getNeighbours()};
\node[oval, minimum width=9*\px, minimum height=11.5*\px, inner xsep=0pt] (gd-x) at (515.3,3230.9) {X};
\node[oval, minimum width=9*\px, minimum height=11.5*\px, inner xsep=0pt] (gd-y) at (549.6,3230.9) {F};
\node[oval, minimum width=9*\px, minimum height=11.5*\px, inner xsep=0pt] (gd-z) at (574,3230.9) {\#};
\node[stop] (gd-e) at (523.5,3271) {};
\draw[flow] (gd-s) -- (gd-o);
\draw[flow] (gd-o.west) to[sl=16] (gd-n);
\draw[flow] (gd-o.south east) to[sl=7] (gd-h);
\draw[flow] (gd-h.south west) to[sl=7] (gd-x);
\draw[flow] (gd-h.south east) to[sl=7] (gd-f);
\draw[flow] ([xshift=-0.09cm]gd-f.south) to[sl=7] (gd-y);
\draw[flow] ([xshift=0.09cm]gd-f.south) to[sl=7] (gd-z);
\draw[flow] (gd-n.south) -- (470.4,3259) -- (gd-e.west);
\draw[flow] (gd-x.south) -- (515.3,3259) -- (gd-e.north west);
\draw[flow] (gd-y.south) -- (549.6,3259) -- (gd-e.north east);
\draw[flow] (gd-z.south) -- (574,3259) -- (gd-e.east);

% setMine()
\umlframe{cream}{sw-sm}{263}{3316.6}{391.6}{3614}{\bfseries setMine()}
\node[start] (sm-s) at (328.8,3343.4) {};
\node[dec={70}{17}] (sm-d1) at (328.8,3386.6) {Is this a mine?};
\node[lbl] (sm-l1) at (334.5,3400) {no};
\node[lbl] (sm-l2) at (297,3419.2) {yes};
\node[act] (sm-dn) at (305.5,3430.3) {decrease neighbours};
\node[dec={105}{17}] (sm-d2) at (328.8,3474) {Should this be a mine?};
\node[lbl] (sm-l3) at (334.5,3487) {no};
\node[lbl] (sm-l4) at (297.8,3506) {yes};
\node[act] (sm-in) at (305.5,3516.7) {Increase neighbours};
\node[act] (sm-mk) at (305.5,3557.7) {Make mine};
\node[stop] (sm-e) at (305.5,3598) {};
\node[act] (sm-nm) at (351.2,3598) {Make not mine};
\draw[flow] (sm-s) -- (sm-d1);
\draw[flow] (sm-d1.south west) to[sl=7] (sm-dn);
\draw[flow] (sm-d1.south east) -- (352,3402.7) -- (352,3460) -- ([xshift=0.12cm]sm-d2.north);
\draw[flow] (sm-dn.south) -- (305.5,3460) -- ([xshift=-0.12cm]sm-d2.north);
\draw[flow] ([xshift=-0.1cm]sm-d2.south) to[sl=6] (sm-in);
\draw[flow] ([xshift=0.1cm]sm-d2.south) to[sl=6] (sm-nm);
\draw[flow] (sm-in) -- (sm-mk);
\draw[flow] (sm-mk) -- (sm-e);

% isOpen() isFlagged() isMine()
\umlframe{cream}{sw-io}{164.3}{3400.8}{248.4}{3529.4}{\bfseries isOpen()}
\node[start] (io-s) at (206.3,3427.6) {};
\node[dec={63}{16.5}] (io-d) at (206.3,3470.8) {Is this open?};
\node[lbl] (io-l1) at (185.5,3504) {yes};
\node[lbl] (io-l2) at (226,3504) {no};
\node[stop] (io-e1) at (194.1,3513.7) {};
\node[stop] (io-e2) at (219.4,3513.7) {};

\umlframe{cream}{sw-if}{442.7}{3400.8}{536.5}{3529.4}{\bfseries isFlagged()}
\node[start] (if-s) at (489.6,3427.6) {};
\node[dec={73}{16.5}] (if-d) at (489.6,3470.8) {Is this flagged?};
\node[lbl] (if-l1) at (468.4,3504) {yes};
\node[lbl] (if-l2) at (509.5,3504) {no};
\node[stop] (if-e1) at (476.5,3513.7) {};
\node[stop] (if-e2) at (502.2,3513.7) {};

\umlframe{cream}{sw-im}{576.5}{3400.8}{666.3}{3529.4}{\bfseries isMine()}
\node[start] (im-s) at (621,3427.6) {};
\node[dec={71}{16.5}] (im-d) at (621,3470.8) {Is this a mine?};
\node[lbl] (im-l1) at (600.6,3504) {yes};
\node[lbl] (im-l2) at (641,3504) {no};
\node[stop] (im-e1) at (608.4,3513.7) {};
\node[stop] (im-e2) at (634.5,3513.7) {};

\foreach \p in {io,if,im} {
  \draw[flow] (\p-s) -- (\p-d);
  \draw[flow] ([xshift=-0.07cm]\p-d.south) to[sl=7] (\p-e1);
  \draw[flow] ([xshift=0.07cm]\p-d.south) to[sl=7] (\p-e2);
}

\umlframe{cream}{sw-gn}{681}{3402.7}{750.6}{3527}{\bfseries getNeighbours()}
\node[start] (gn-s) at (715.8,3430.3) {};
\node[act] (gn-a) at (715.8,3470.8) {Get neighbours};
\node[stop] (gn-e) at (715.8,3511) {};

\umlframe{cream}{sw-sf}{882.3}{3403.5}{941.8}{3527}{\bfseries setFlag()}
\node[start] (sf-s) at (912,3430.3) {};
\node[act] (sf-a) at (912,3470.8) {Set this flag};
\node[stop] (sf-e) at (912,3511) {};

\foreach \a/\b in {gn-s/gn-a, gn-a/gn-e, sf-s/sf-a, sf-a/sf-e}
  \draw[flow] (\a) -- (\b);

\node[start] (sw-s) at (816.1,3156) {};
\proptab{sw-pr}{properties}{764.9}{816.1}{867.3}{3391.2}{mines/boolean[][], open/boolean[][], flags/boolean[][], neighbours/int[][], filled/boolean, hitLocation/MineTile, width/int, height/int, mineCount/int, mineChance/double, seed/long, remainingSpaces/int}
\draw[flow] (sw-s) -- (sw-pr);

% Open
\umlframe{cream}{sw-op}{956}{3411.9}{1188.3}{3518.3}{Open}
\node[start] (op-s) at (1001.3,3439) {};
\proptab{op-pr}{properties}{966.6}{1001.3}{1036.3}{3474.3}{neighbours/int, flag/flag}
\draw[flow] (op-s) -- (op-pr);
\node[call] (op-f) at (1111.5,3439) {flag};
\node[call] (op-w) at (1058.8,3490.7) {WIN};
\node[call] (op-l) at (1093.1,3490.7) {LOSE};
\node[call] (op-g) at (1129.6,3490.7) {FLAG};
\node[call] (op-n) at (1166.5,3490.7) {NONE};
\draw[tree] (op-f.west) -- (1059.6,3451.7) -- (op-w);
\draw[tree] (op-f.south west) -- (1093.1,3452.5) -- (op-l);
\draw[tree] (op-f.south east) -- (1129.6,3452.5) -- (op-g);
\draw[tree] (op-f.east) -- (1166.5,3451.7) -- (op-n);

% ================= MineTile
\node[start] (mt-s) at (1453.7,3680) {};
\proptab{mt-pr}{properties}{1436.7}{1453.7}{1471}{3715}{x/int, y/int}
\draw[flow] (mt-s) -- (mt-pr);

% ================= links between frames
\begin{pgfonlayer}{mid}
  \draw[link] (go) -- (ms);
  \draw[link] (ms-main.west |- 0,302) -- (912,398) -- (ms-sd);
  \draw[link] (ms-main.east |- 0,306) -- (1509.5,398) -- (ms-ai);
  \draw[link] (ms-main) -- (ms-pf);
  \draw[link] (ms-pf.west |- 0,651) -- (1075.5,728) -- (ms-of);
  \draw[link] (ms-pf) -- (ms-tf);
  \draw[link] (ms-pf.east |- 0,675) -- (1381,728) -- (ms-df);
  \draw[link] (ms.west |- 0,905) -- (596,1150) -- (sw.north -| 596,0);
  \draw[link] (ms.east |- 0,1058) -- (1695,1152) -- (mb);
  \draw[link] (ms.south) -- (1213,3642) -- (mt.west |- 0,3698);

  \draw[link] (mb-run) -- (mb-exp);
  \draw[link] (mb-exp) -- (mb-ob);
  \draw[link] (mb-ob) -- (mb-op);
  \draw[link] (mb.west |- 0,1946) -- (900,2362) -- (sw.north -| 900,0);
  \draw[link] (mb.east |- 0,2066) -- (2175,2357) -- (2175,3642) -- (mt.east |- 0,3703);
  \draw[link] (mb) -- (mf);

  \draw[link] (mf.south) -- (1694.85,3642) -- (mt.east |- 0,3698);
  \draw[link] (sw.south) -- (604.25,3642) -- (mt.west |- 0,3703);

  \draw[link] (sw-gt) -- (sw-gs);
  \draw[link] (sw-gs) -- (sw-ai);
  \draw[link] (sw-ai) -- (sw-io);
  \draw[link] (sw-so.south) -- (79.4,3309) -- ([yshift=-0.12cm]sw-io.north west);
  \draw[link] (sw-gd.west |- 0,3203) -- (265,3293.6) -- ([xshift=0.26cm]sw-io.north);
  \draw[link] (sw-to.west |- 0,2902) -- (327,3005) -- (sw-pm);
  \draw[link] (sw-pm) -- (sw-sm);
  \draw[link] (sw-to.south -| 423,0) -- (420.2,3004) -- (420.2,3311) -- ([xshift=0.163cm]sw-if.north west);
  \draw[link] (sw-gd.south) -- (519,3311) -- ([xshift=0.12cm]sw-if.north);
  \draw[link] (sw-to.south -| 618.4,0) -- (621,3004) -- (sw-im);
  \draw[link] (sw-to.east |- 0,2935) -- (675.7,3004) -- (675.7,3309) -- ([xshift=0.18cm]sw-gn.north west);
  \draw[link] (sw-gd.east |- 0,3205.6) -- (758.5,3293.6) -- (758.5,3311) -- ([xshift=0.17cm]sw-gn.north);
\end{pgfonlayer}
\end{tikzpicture}
\end{document}
